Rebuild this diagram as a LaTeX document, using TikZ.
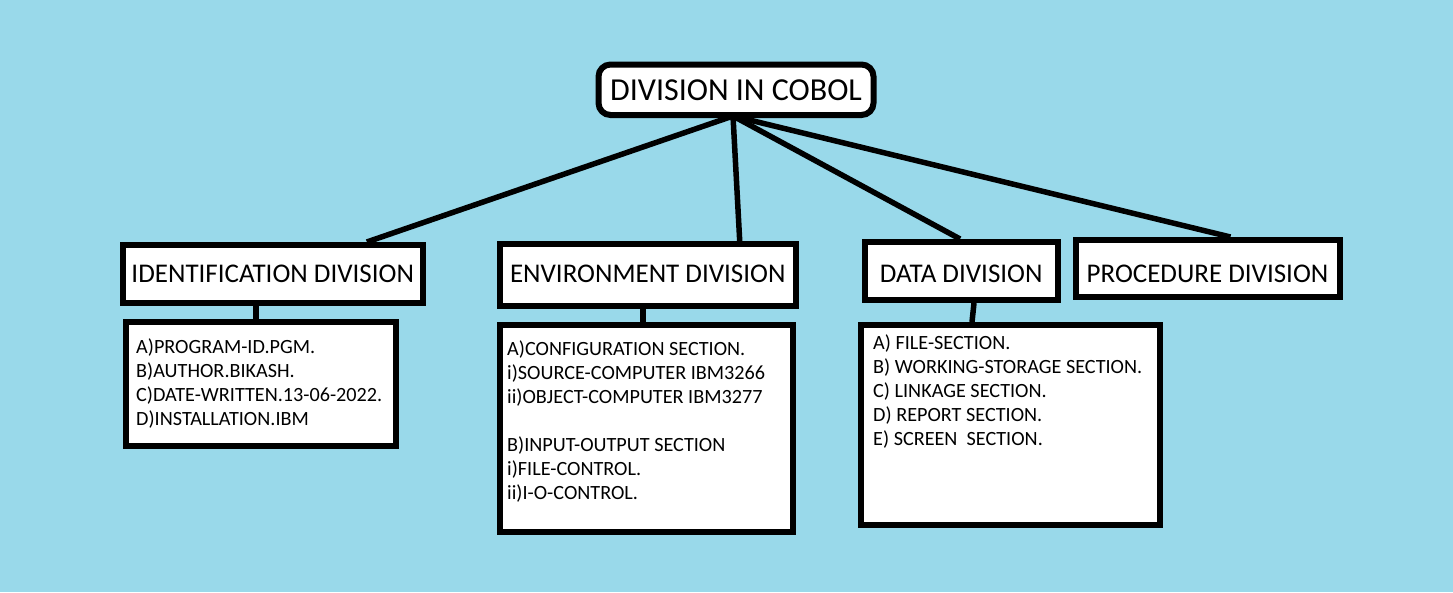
\documentclass[tikz,border=0pt]{standalone}
\usepackage{fontspec}
\setmainfont{Carlito}
\usetikzlibrary{calc}
\definecolor{bg}{RGB}{153,217,234}
\tikzset{
  box/.style={draw=black, line width=6pt, fill=white, inner sep=0pt, text=black},
  conn/.style={draw=black, line width=5.5pt},
  head/.style={box, font=\fontsize{27}{30}\selectfont, text depth=0pt},
  detail/.style={anchor=base west, inner sep=0pt, font=\fontsize{20.2}{24}\selectfont}
}
\begin{document}
\begin{tikzpicture}[x=1pt,y=-1pt]
\fill[bg] (0,0) rectangle (1453,592);
\useasboundingbox (0,0) rectangle (1453,592);
% title
\node[box, rounded corners=12pt, minimum width=275pt, minimum height=50.5pt,
      font=\fontsize{32}{36}\selectfont] (title) at (736,89.75) {DIVISION IN COBOL};
\coordinate (hub) at (733,116);
% division boxes
\node[head, text height=17.25pt, minimum width=299.5pt, minimum height=58pt] (idb) at (272.75,274) {IDENTIFICATION DIVISION};
\node[head, text height=14.75pt, minimum width=295.5pt, minimum height=61.5pt] (enb) at (647.75,274.75) {ENVIRONMENT DIVISION};
\node[head, text height=22.25pt, minimum width=193.5pt, minimum height=58pt] (dab) at (961.25,271) {DATA DIVISION};
\node[head, text height=27.75pt, minimum width=264pt, minimum height=56.5pt] (prb) at (1207.5,268.25) {PROCEDURE DIVISION};
% detail boxes
\node[box, minimum width=270pt, minimum height=124pt] (idd) at (260.5,383.5) {};
\node[box, minimum width=292.5pt, minimum height=206.5pt] (end) at (646.25,428.25) {};
\node[box, minimum width=299.5pt, minimum height=199.5pt] (dad) at (1010.25,424.75) {};
% connectors from title
\draw[conn] (hub) -- ($(idb.north west)!0.808!(idb.north east)$);
\draw[conn] (hub) -- ($(enb.north west)!0.805!(enb.north east)$);
\draw[conn] (hub) -- ($(dab.north west)!0.494!(dab.north east)$);
\draw[conn] (hub) -- ($(prb.north west)!0.585!(prb.north east)$);
% short connectors
\draw[conn] ([xshift=-16.75pt]idb.south) -- ([xshift=-4.5pt]idd.north);
\draw[conn] ([xshift=-4.75pt]enb.south) -- ([xshift=-3.25pt]end.north);
\draw[conn] ([xshift=12.75pt]dab.south) -- ([xshift=-38.25pt]dad.north);
% detail texts
\node[detail] (id1) at (136,353) {A)PROGRAM-ID.PGM.};
\node[detail] (id2) at (136,377) {B)AUTHOR.BIKASH.};
\node[detail] (id3) at (136,401) {C)DATE-WRITTEN.13-06-2022.};
\node[detail] (id4) at (136,425) {D)INSTALLATION.IBM};
\node[detail] (en1) at (507,355) {A)CONFIGURATION SECTION.};
\node[detail] (en2) at (507,379) {i)SOURCE-COMPUTER IBM3266};
\node[detail] (en3) at (507,403) {ii)OBJECT-COMPUTER IBM3277};
\node[detail] (en4) at (507,451) {B)INPUT-OUTPUT SECTION};
\node[detail] (en5) at (507,475) {i)FILE-CONTROL.};
\node[detail] (en6) at (507,499) {ii)I-O-CONTROL.};
\node[detail] (da1) at (873,349) {A) FILE-SECTION.};
\node[detail] (da2) at (873,373) {B) WORKING-STORAGE SECTION.};
\node[detail] (da3) at (873,397) {C) LINKAGE SECTION.};
\node[detail] (da4) at (873,421) {D) REPORT SECTION.};
\node[detail] (da5) at (873,445) {E) SCREEN~ SECTION.};
\end{tikzpicture}
\end{document}
